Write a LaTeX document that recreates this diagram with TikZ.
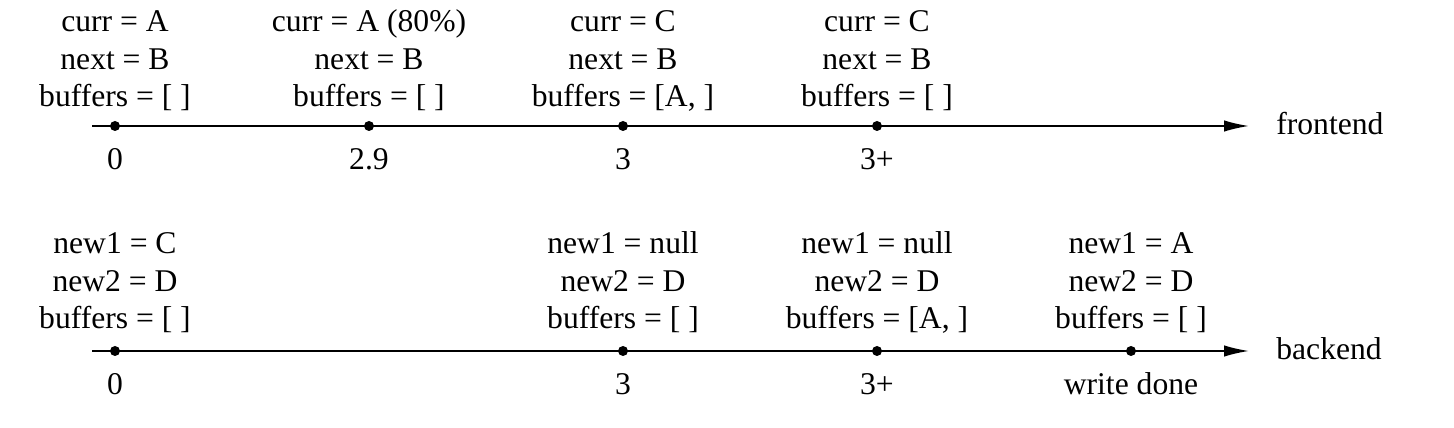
\documentclass[tikz,border=0pt]{standalone}
\usepackage{fontspec}
\setmainfont{Liberation Serif}
\usetikzlibrary{positioning,arrows.meta}

\begin{document}
\begin{tikzpicture}[
        x=0.02cm, y=-0.02cm,
        every node/.style={font=\fontsize{18}{21.3}\selectfont, inner sep=0pt},
        tick/.style={circle, fill, minimum size=0.2cm},
        state/.style={align=center, text depth=0pt},
        time/.style={anchor=base},
        timeline/.style={line width=1pt, -{Latex[length=0.5cm,width=0.23cm]}}
      ]
        \useasboundingbox (0,0) rectangle (1454,428);

        % frontend
        \coordinate (fstart) at (92,126);
        \coordinate (fend) at (1249,126);
        \draw[timeline] (fstart) -- (fend);
        \node[anchor=west] (flabel) at (1276,124) {frontend};
        \node[tick] (f0) at (115,126) {};
        \node[tick] (f1) at (369,126) {};
        \node[tick] (f2) at (623,126) {};
        \node[tick] (f3) at (877,126) {};
        \node[state, above=0.38cm of f0.center] (fs0) {curr = A\\ next = B\\ buffers = [ ]};
        \node[state, above=0.38cm of f1.center] (fs1) {curr = A (80\%)\\ next = B\\ buffers = [ ]};
        \node[state, above=0.38cm of f2.center] (fs2) {curr = C\\ next = B\\ buffers = [A, ]};
        \node[state, above=0.38cm of f3.center] (fs3) {curr = C\\ next = B\\ buffers = [ ]};
        \node[below=0.88cm of f0.center, time] (ft0) {0};
        \node[below=0.88cm of f1.center, time] (ft1) {2.9};
        \node[below=0.88cm of f2.center, time] (ft2) {3};
        \node[below=0.88cm of f3.center, time] (ft3) {3+};

        % backend
        \coordinate (bstart) at (92,351);
        \coordinate (bend) at (1249,351);
        \draw[timeline] (bstart) -- (bend);
        \node[anchor=west] (blabel) at (1276,349) {backend};
        \node[tick] (b0) at (115,351) {};
        \node[tick] (b1) at (623,351) {};
        \node[tick] (b2) at (877,351) {};
        \node[tick] (b3) at (1131,351) {};
        \node[state, above=0.44cm of b0.center] (bs0) {new1 = C\\ new2 = D\\ buffers = [ ]};
        \node[state, above=0.44cm of b1.center] (bs1) {new1 = null\\ new2 = D\\ buffers = [ ]};
        \node[state, above=0.44cm of b2.center] (bs2) {new1 = null\\ new2 = D\\ buffers = [A, ]};
        \node[state, above=0.44cm of b3.center] (bs3) {new1 = A\\ new2 = D\\ buffers = [ ]};
        \node[below=0.88cm of b0.center, time] (bt0) {0};
        \node[below=0.88cm of b1.center, time] (bt1) {3};
        \node[below=0.88cm of b2.center, time] (bt2) {3+};
        \node[below=0.88cm of b3.center, time] (bt3) {write done};
      \end{tikzpicture}
\end{document}
